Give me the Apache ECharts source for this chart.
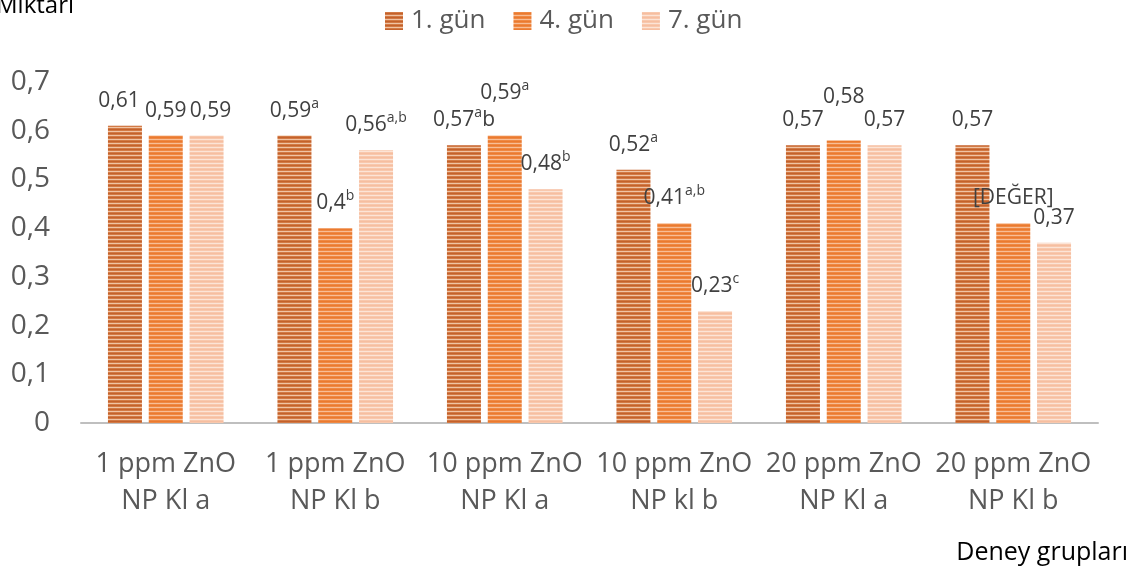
<!DOCTYPE html>
<html><head><meta charset="utf-8">
<script src="https://cdn.jsdelivr.net/npm/echarts@6/dist/echarts.min.js"></script>
<style>html,body{margin:0;padding:0;background:#fff}#c{width:1141px;height:577px}</style>
</head><body><div id="c"></div>
<script>
const categories = ['1 ppm ZnO\nNP Kl a','1 ppm ZnO\nNP Kl b','10 ppm ZnO\nNP Kl a','10 ppm ZnO\nNP kl b','20 ppm ZnO\nNP Kl a','20 ppm ZnO\nNP Kl b'];
const seriesNames = ['1. gün','4. gün','7. gün'];
const day1 = [0.61, 0.59, 0.57, 0.52, 0.57, 0.57];
const day4 = [0.59, 0.40, 0.59, 0.41, 0.58, 0.41];
const day7 = [0.59, 0.56, 0.48, 0.23, 0.57, 0.37];
// label text: parts split by '^' alternate normal / superscript
const labels1 = ['0,61','0,59^a','0,57^a^b','0,52^a','0,57','0,57'];
const labels4 = ['0,59','0,4^b','0,59^a','0,41^a,b','0,58','[DEĞER]'];
const labels7 = ['0,59','0,56^a,b','0,48^b','0,23^c','0,57','0,37'];
const yTicks = {min:0, max:0.7, interval:0.1};

// label placement tweaks (layout, separate from data)
const labelShift = [
  {0:[-6,0]},
  {2:[0,-18], 4:[0,-18]},
  {0:[4,0]}
];

const FONT = '"Open Sans", "Noto Sans", sans-serif';
function stripe(rows){
  const c=document.createElement('canvas'); c.width=4; c.height=rows.length;
  const g=c.getContext('2d');
  rows.forEach((col,i)=>{g.fillStyle=col; g.fillRect(0,i,4,1);});
  return {image:c, repeat:'repeat'};
}
const colors = [
  stripe(['#D27A45','#C4612B','#D27A45','#F0C3A4']),
  stripe(['#EE8944','#EB7A2F','#EE8944','#F8BE96']),
  stripe(['#F8C8AD','#F6BEA0','#F8C8AD','#FCE4D6'])
];
function fmt(s){
  return s.split('^').map((p,i)=> i%2 ? '{s|'+p+'}' : '{n|'+p+'}').join('');
}
const rich = {
  n:{fontSize:21, fontFamily:FONT, color:'#404040', lineHeight:28},
  s:{fontSize:14, fontFamily:FONT, color:'#404040', lineHeight:18, verticalAlign:'top'}
};
function mk(i, vals, labs){
  const sh = labelShift[i];
  return {
    name: seriesNames[i], type:'bar', barWidth:34, barGap:'20%',
    itemStyle:{color:colors[i]},
    data: vals.map((v,j)=>({value:v, label: sh[j] ? {offset:sh[j]} : {}})),
    label:{show:true, position:'top', distance:11, rich, formatter: p => fmt(labs[p.dataIndex])}
  };
}
const chart = echarts.init(document.getElementById('c'));
chart.setOption({
  animation:false,
  legend:{left:380, top:3, itemWidth:18, itemHeight:18, itemGap:28, icon:'rect',
    textStyle:{fontSize:26, fontFamily:FONT, color:'#595959', padding:[0,0,0,3]}},
  grid:{left:81, right:43, top:82, bottom:154},
  xAxis:{type:'category', data:categories, axisTick:{show:false},
    axisLine:{lineStyle:{color:'#BFBFBF', width:2}},
    axisLabel:{fontSize:27, lineHeight:37, margin:23, color:'#595959', fontFamily:FONT, interval:0}},
  yAxis:{type:'value', min:yTicks.min, max:yTicks.max, interval:yTicks.interval,
    splitLine:{show:false}, axisLine:{show:false}, axisTick:{show:false},
    axisLabel:{fontSize:28, margin:31, color:'#595959', fontFamily:FONT,
      formatter: v => String(+v.toFixed(1)).replace('.',',')}},
  graphic:[
    {type:'text', right:1141-74, top:-6, style:{text:'Miktarı', fontSize:24, fontFamily:FONT, fill:'#000'}},
    {type:'text', right:13, top:540, style:{text:'Deney grupları', fontSize:25, fontFamily:FONT, fill:'#000'}}
  ],
  series:[mk(0,day1,labels1), mk(1,day4,labels4), mk(2,day7,labels7)]
});
</script></body></html>
